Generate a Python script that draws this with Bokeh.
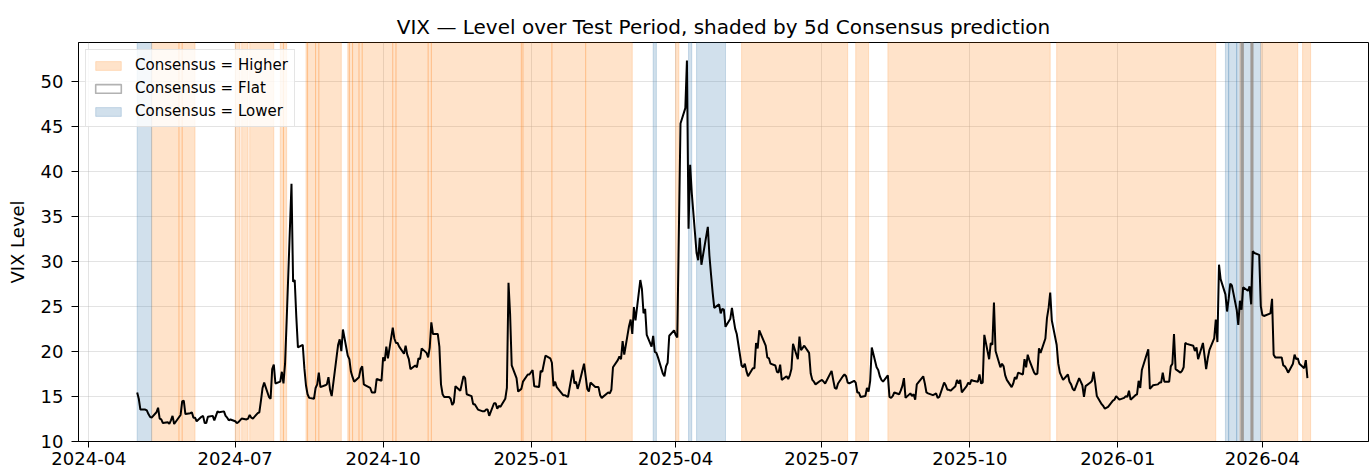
import pandas as pd
from bokeh.plotting import figure
from bokeh.models import (Range1d, FixedTicker, DatetimeTickFormatter,
                          Legend, LegendItem, ColumnDataSource)
from bokeh.embed import file_html
from bokeh.resources import INLINE

# ---------------- data ----------------
dates = [
    # 2024-05
    "2024-05-01","2024-05-02","2024-05-03","2024-05-06","2024-05-07","2024-05-08","2024-05-09","2024-05-10",
    "2024-05-13","2024-05-14","2024-05-15","2024-05-16","2024-05-17","2024-05-20","2024-05-21","2024-05-22",
    "2024-05-23","2024-05-24","2024-05-28","2024-05-29","2024-05-30","2024-05-31",
    # 2024-06
    "2024-06-03","2024-06-04","2024-06-05","2024-06-06","2024-06-07","2024-06-10","2024-06-11","2024-06-12",
    "2024-06-13","2024-06-14","2024-06-17","2024-06-18","2024-06-20","2024-06-21","2024-06-24","2024-06-25",
    "2024-06-26","2024-06-27","2024-06-28",
    # 2024-07
    "2024-07-01","2024-07-02","2024-07-03","2024-07-05","2024-07-08","2024-07-09","2024-07-10","2024-07-11",
    "2024-07-12","2024-07-15","2024-07-16","2024-07-17","2024-07-18","2024-07-19","2024-07-22","2024-07-23",
    "2024-07-24","2024-07-25","2024-07-26","2024-07-29","2024-07-30","2024-07-31",
    # 2024-08
    "2024-08-01","2024-08-02","2024-08-05","2024-08-06","2024-08-07","2024-08-08","2024-08-09","2024-08-12",
    "2024-08-13","2024-08-14","2024-08-15","2024-08-16","2024-08-19","2024-08-20","2024-08-21","2024-08-22",
    "2024-08-23","2024-08-26","2024-08-27","2024-08-28","2024-08-29","2024-08-30",
    # 2024-09
    "2024-09-03","2024-09-04","2024-09-05","2024-09-06","2024-09-09","2024-09-10","2024-09-11","2024-09-12",
    "2024-09-13","2024-09-16","2024-09-17","2024-09-18","2024-09-19","2024-09-20","2024-09-23","2024-09-24",
    "2024-09-25","2024-09-26","2024-09-27","2024-09-30",
    # 2024-10
    "2024-10-01","2024-10-02","2024-10-03","2024-10-04","2024-10-07","2024-10-08","2024-10-09","2024-10-10",
    "2024-10-11","2024-10-14","2024-10-15","2024-10-16","2024-10-17","2024-10-18","2024-10-21","2024-10-22",
    "2024-10-23","2024-10-24","2024-10-25","2024-10-28","2024-10-29","2024-10-30","2024-10-31",
    # 2024-11
    "2024-11-01","2024-11-04","2024-11-05","2024-11-06","2024-11-07","2024-11-08","2024-11-11","2024-11-12",
    "2024-11-13","2024-11-14","2024-11-15","2024-11-18","2024-11-19","2024-11-20","2024-11-21","2024-11-22",
    "2024-11-25","2024-11-26","2024-11-27","2024-11-29",
    # 2024-12
    "2024-12-02","2024-12-03","2024-12-04","2024-12-05","2024-12-06","2024-12-09","2024-12-10","2024-12-11",
    "2024-12-12","2024-12-13","2024-12-16","2024-12-17","2024-12-18","2024-12-19","2024-12-20","2024-12-23",
    "2024-12-24","2024-12-26","2024-12-27","2024-12-30","2024-12-31",
    # 2025-01
    "2025-01-02","2025-01-03","2025-01-06","2025-01-07","2025-01-08","2025-01-10","2025-01-13","2025-01-14",
    "2025-01-15","2025-01-16","2025-01-17","2025-01-21","2025-01-22","2025-01-23","2025-01-24","2025-01-27",
    "2025-01-28","2025-01-29","2025-01-30","2025-01-31",
    # 2025-02
    "2025-02-03","2025-02-04","2025-02-05","2025-02-06","2025-02-07","2025-02-10","2025-02-11","2025-02-12",
    "2025-02-13","2025-02-14","2025-02-18","2025-02-19","2025-02-20","2025-02-21","2025-02-24","2025-02-25",
    "2025-02-26","2025-02-27","2025-02-28",
    # 2025-03
    "2025-03-03","2025-03-04","2025-03-05","2025-03-06","2025-03-07","2025-03-10","2025-03-11","2025-03-12",
    "2025-03-13","2025-03-14","2025-03-17","2025-03-18","2025-03-19","2025-03-20","2025-03-21","2025-03-24",
    "2025-03-25","2025-03-26","2025-03-27","2025-03-28","2025-03-31",
    # 2025-04
    "2025-04-01","2025-04-02","2025-04-04","2025-04-07","2025-04-08","2025-04-09","2025-04-10","2025-04-11",
    "2025-04-14","2025-04-15","2025-04-16","2025-04-17","2025-04-21","2025-04-22","2025-04-23","2025-04-24",
    "2025-04-25","2025-04-28","2025-04-29","2025-04-30",
    # 2025-05
    "2025-05-01","2025-05-02","2025-05-05","2025-05-06","2025-05-07","2025-05-08","2025-05-09","2025-05-12",
    "2025-05-13","2025-05-14","2025-05-15","2025-05-16","2025-05-19","2025-05-20","2025-05-21","2025-05-22",
    "2025-05-23","2025-05-27","2025-05-28","2025-05-29","2025-05-30",
    # 2025-06
    "2025-06-02","2025-06-03","2025-06-04","2025-06-05","2025-06-06","2025-06-09","2025-06-10","2025-06-11",
    "2025-06-12","2025-06-13","2025-06-16","2025-06-17","2025-06-18","2025-06-20","2025-06-23","2025-06-24",
    "2025-06-25","2025-06-26","2025-06-27","2025-06-30",
    # 2025-07
    "2025-07-01","2025-07-02","2025-07-03","2025-07-07","2025-07-08","2025-07-09","2025-07-10","2025-07-11",
    "2025-07-14","2025-07-15","2025-07-16","2025-07-17","2025-07-18","2025-07-21","2025-07-22","2025-07-23",
    "2025-07-24","2025-07-25","2025-07-28","2025-07-29","2025-07-30","2025-07-31",
    # 2025-08
    "2025-08-01","2025-08-04","2025-08-05","2025-08-06","2025-08-07","2025-08-08","2025-08-11","2025-08-12",
    "2025-08-13","2025-08-14","2025-08-15","2025-08-18","2025-08-19","2025-08-20","2025-08-21","2025-08-22",
    "2025-08-25","2025-08-26","2025-08-27","2025-08-28","2025-08-29",
    # 2025-09
    "2025-09-02","2025-09-03","2025-09-04","2025-09-05","2025-09-08","2025-09-09","2025-09-10","2025-09-11",
    "2025-09-12","2025-09-15","2025-09-16","2025-09-17","2025-09-18","2025-09-19","2025-09-22","2025-09-23",
    "2025-09-24","2025-09-25","2025-09-26","2025-09-29","2025-09-30",
    # 2025-10
    "2025-10-01","2025-10-02","2025-10-03","2025-10-06","2025-10-07","2025-10-08","2025-10-09","2025-10-10",
    "2025-10-13","2025-10-14","2025-10-15","2025-10-16","2025-10-17","2025-10-20","2025-10-21","2025-10-22",
    "2025-10-23","2025-10-24","2025-10-27","2025-10-28","2025-10-29","2025-10-30","2025-10-31",
    # 2025-11
    "2025-11-03","2025-11-04","2025-11-05","2025-11-06","2025-11-07","2025-11-10","2025-11-11","2025-11-12",
    "2025-11-13","2025-11-14","2025-11-17","2025-11-18","2025-11-19","2025-11-20","2025-11-21","2025-11-24",
    "2025-11-25","2025-11-26","2025-11-28",
    # 2025-12
    "2025-12-01","2025-12-02","2025-12-03","2025-12-04","2025-12-05","2025-12-08","2025-12-09","2025-12-10",
    "2025-12-11","2025-12-12","2025-12-15","2025-12-16","2025-12-17","2025-12-18","2025-12-19","2025-12-22",
    "2025-12-23","2025-12-24","2025-12-26","2025-12-29","2025-12-30","2025-12-31",
    # 2026-01
    "2026-01-02","2026-01-05","2026-01-06","2026-01-07","2026-01-08","2026-01-09","2026-01-12","2026-01-13",
    "2026-01-14","2026-01-15","2026-01-16","2026-01-20","2026-01-21","2026-01-22","2026-01-23","2026-01-26",
    "2026-01-27","2026-01-28","2026-01-29","2026-01-30",
    # 2026-02
    "2026-02-02","2026-02-03","2026-02-04","2026-02-05","2026-02-06","2026-02-09","2026-02-10","2026-02-11",
    "2026-02-12","2026-02-13","2026-02-17","2026-02-18","2026-02-19","2026-02-20","2026-02-23","2026-02-24",
    "2026-02-25","2026-02-26","2026-02-27",
    # 2026-03
    "2026-03-02","2026-03-03","2026-03-04","2026-03-05","2026-03-06","2026-03-09","2026-03-10","2026-03-11",
    "2026-03-12","2026-03-13","2026-03-16","2026-03-17","2026-03-18","2026-03-19","2026-03-20","2026-03-23",
    "2026-03-24","2026-03-25","2026-03-26","2026-03-27","2026-03-30","2026-03-31",
    # 2026-04
    "2026-04-01","2026-04-02","2026-04-06","2026-04-07","2026-04-08","2026-04-09","2026-04-10","2026-04-13",
    "2026-04-14","2026-04-15","2026-04-16","2026-04-17","2026-04-20","2026-04-21","2026-04-22","2026-04-23",
    "2026-04-24","2026-04-27","2026-04-28","2026-04-29",
]

vix = [
    # 2024-05
    15.4, 14.7, 13.5, 13.5, 13.4, 13.0, 12.7, 12.6,
    13.2, 13.7, 12.5, 12.4, 12.0, 12.1, 11.9, 12.3,
    12.8, 11.9, 12.9, 14.4, 14.5, 13.0,
    # 2024-06
    13.1, 13.2, 12.6, 12.6, 12.2, 12.7, 12.8, 12.0,
    12.0, 12.7, 12.8, 12.3, 13.3, 13.2, 13.3, 12.8,
    12.6, 12.3, 12.4,
    # 2024-07
    12.2, 12.0, 12.1, 12.5, 12.4, 12.5, 12.9, 12.6,
    12.5, 13.1, 13.2, 14.5, 15.9, 16.5, 14.9, 14.7,
    18.0, 18.5, 16.4, 16.6, 17.7, 16.4,
    # 2024-08
    18.6, 23.4, 38.6, 27.7, 27.9, 23.8, 20.4, 20.7,
    18.1, 16.2, 15.2, 14.8, 14.7, 15.9, 16.3, 17.6,
    16.0, 16.2, 16.3, 17.1, 15.7, 15.0,
    # 2024-09
    20.7, 21.3, 20.0, 22.4, 19.5, 19.1, 17.7, 17.1,
    16.6, 17.1, 18.0, 18.3, 16.3, 16.2, 15.9, 15.4,
    15.4, 15.4, 16.9, 16.7,
    # 2024-10
    19.3, 18.9, 20.5, 19.2, 22.6, 21.4, 20.9, 20.9,
    20.5, 19.7, 20.6, 19.6, 19.1, 18.0, 18.4, 18.2,
    19.2, 19.1, 20.3, 19.8, 19.3, 20.4, 23.2,
    # 2024-11
    21.9, 21.9, 20.5, 16.3, 15.2, 14.9, 14.9, 14.7,
    14.0, 14.3, 16.1, 15.6, 16.4, 17.2, 17.0, 15.2,
    15.0, 14.1, 14.1, 13.5,
    # 2024-12
    13.3, 13.3, 13.5, 13.5, 12.8, 14.2, 14.2, 13.6,
    13.9, 13.8, 14.7, 15.9, 27.6, 24.1, 18.4, 17.0,
    15.5, 15.8, 16.6, 17.4, 17.4,
    # 2025-01
    17.9, 16.1, 16.0, 17.8, 17.7, 19.5, 19.2, 18.7,
    16.1, 16.6, 16.0, 15.1, 15.1, 15.0, 14.9, 17.9,
    16.4, 16.6, 15.8, 16.4,
    # 2025-02
    18.6, 17.2, 15.8, 15.5, 16.5, 16.0, 16.0, 16.0,
    15.1, 14.8, 15.4, 15.3, 15.7, 18.2, 19.0, 19.4,
    19.1, 21.1, 19.6,
    # 2025-03
    22.8, 23.5, 21.9, 24.9, 23.4, 27.9, 26.9, 24.2,
    24.7, 21.8, 20.5, 21.7, 19.9, 19.8, 19.3, 17.5,
    17.2, 18.3, 18.7, 21.7, 22.3,
    # 2025-04
    21.8, 21.5, 45.3, 47.0, 52.3, 33.6, 40.7, 37.6,
    30.9, 30.1, 32.6, 29.6, 33.8, 30.6, 28.5, 26.5,
    24.8, 25.2, 24.2, 24.7,
    # 2025-05
    24.6, 22.7, 23.6, 24.8, 23.6, 22.5, 21.9, 18.4,
    18.2, 18.6, 17.8, 17.2, 18.1, 18.1, 20.9, 20.3,
    22.3, 20.6, 19.3, 19.2, 18.6,
    # 2025-06
    18.4, 17.7, 17.6, 18.5, 16.8, 17.2, 16.9, 17.3,
    18.0, 20.8, 19.1, 21.6, 20.1, 20.6, 19.8, 17.5,
    16.8, 16.6, 16.3, 16.7,
    # 2025-07
    16.8, 16.6, 16.4, 17.8, 16.8, 15.9, 15.8, 16.4,
    17.2, 17.4, 17.2, 16.5, 16.4, 16.7, 16.5, 15.4,
    15.4, 14.9, 15.0, 15.9, 15.5, 16.7,
    # 2025-08
    20.4, 18.2, 17.9, 17.2, 16.8, 16.6, 17.3, 14.9,
    14.8, 15.0, 15.4, 15.2, 15.6, 16.1, 17.0, 14.8,
    15.3, 15.0, 15.2, 14.6, 16.3,
    # 2025-09
    17.2, 16.4, 15.4, 15.3, 15.1, 15.2, 15.3, 14.8,
    14.9, 16.5, 16.2, 15.7, 15.7, 15.6, 16.1, 16.8,
    16.4, 16.8, 15.4, 16.1, 16.5,
    # 2025-10
    16.3, 16.8, 16.7, 16.6, 17.4, 16.4, 16.5, 21.8,
    19.1, 20.9, 20.7, 25.4, 20.0, 18.2, 18.6, 18.3,
    17.3, 16.8, 16.0, 16.4, 17.1, 16.9, 17.6,
    # 2025-11
    17.4, 19.1, 18.2, 19.6, 19.0, 17.6, 17.4, 17.5,
    20.3, 19.8, 21.4, 23.7, 24.8, 26.5, 23.4, 20.7,
    18.6, 17.6, 16.8,
    # 2025-12
    17.4, 16.6, 16.3, 15.8, 15.6, 17.0, 16.6, 16.2,
    14.9, 16.1, 16.5, 16.7, 17.7, 16.4, 15.0, 14.1,
    13.9, 13.6, 13.8, 14.5, 14.6, 15.0,
    # 2026-01
    14.6, 14.8, 15.0, 14.9, 15.6, 14.6, 15.1, 15.2,
    16.7, 15.9, 17.9, 20.2, 15.8, 16.0, 16.2, 16.3,
    16.5, 16.5, 17.6, 16.6,
    # 2026-02
    16.6, 18.3, 18.6, 21.9, 18.0, 17.6, 17.8, 18.2,
    20.9, 20.8, 20.6, 20.0, 20.4, 19.1, 20.9, 19.5,
    18.0, 19.2, 20.1,
    # 2026-03
    21.4, 23.5, 21.0, 29.6, 28.0, 26.3, 24.4, 25.8,
    27.5, 27.3, 24.6, 22.9, 25.6, 24.6, 27.1, 26.7,
    27.2, 25.2, 31.1, 30.9, 30.7, 25.0,
    # 2026-04
    24.0, 23.9, 24.2, 25.8, 19.6, 19.3, 19.3, 19.3,
    18.4, 18.3, 18.0, 17.6, 18.6, 19.6, 19.1, 19.2,
    18.6, 18.1, 19.0, 17.0,
]

# consensus runs: start / end dates per prediction class
higher_start = [
    "2024-05-10", "2024-05-27", "2024-05-29", "2024-07-01", "2024-07-05", "2024-07-10",
    "2024-07-29", "2024-07-31", "2024-08-14", "2024-08-15", "2024-08-20", "2024-08-22",
    "2024-09-09", "2024-09-10", "2024-09-12", "2024-09-16", "2024-09-18", "2024-10-07",
    "2024-10-09", "2024-10-29", "2024-10-31", "2024-12-26", "2024-12-27", "2025-01-14",
    "2025-02-04", "2025-04-01", "2025-05-12", "2025-07-22", "2025-08-11", "2025-11-24",
    "2026-03-18", "2026-03-25", "2026-03-31", "2026-04-26",
]
higher_end = [
    "2024-05-27", "2024-05-29", "2024-06-06", "2024-07-04", "2024-07-09", "2024-07-25",
    "2024-07-31", "2024-08-02", "2024-08-15", "2024-08-20", "2024-08-22", "2024-09-05",
    "2024-09-10", "2024-09-12", "2024-09-16", "2024-09-18", "2024-10-07", "2024-10-09",
    "2024-10-29", "2024-10-31", "2024-12-26", "2024-12-27", "2025-01-14", "2025-02-04",
    "2025-03-05", "2025-04-03", "2025-07-17", "2025-07-30", "2025-11-20", "2026-03-03",
    "2026-03-20", "2026-03-26", "2026-04-23", "2026-05-01",
]
lower_start = ["2024-05-01", "2025-03-18", "2025-04-09", "2025-04-14",
               "2026-03-09", "2026-03-11", "2026-03-16"]
lower_end = ["2024-05-10", "2025-03-20", "2025-04-11", "2025-05-02",
             "2026-03-11", "2026-03-16", "2026-03-31"]
flat_start = ["2026-03-19", "2026-03-25"]
flat_end = ["2026-03-20", "2026-03-26"]

x_tick_dates = ["2024-04-01", "2024-07-01", "2024-10-01", "2025-01-01", "2025-04-01",
                "2025-07-01", "2025-10-01", "2026-01-01", "2026-04-01"]
y_ticks = [10, 15, 20, 25, 30, 35, 40, 45, 50]
x_limits = ("2024-03-25 12:00", "2026-06-06 00:00")
y_limits = (9.95, 54.3)

TITLE = "VIX \u2014 Level over Test Period, shaded by 5d Consensus prediction"
ORANGE = "#ff7f0e"
BLUE = "steelblue"
FONT = "DejaVu Sans"


def ts(s):
    return pd.Timestamp(s)


p = figure(width=1372, height=476, x_axis_type="datetime",
           x_range=Range1d(ts(x_limits[0]), ts(x_limits[1])),
           y_range=Range1d(*y_limits),
           output_backend="svg", toolbar_location=None,
           min_border_left=78, min_border_right=4, min_border_top=42, min_border_bottom=35,
           title=TITLE)

p.title.text_font = FONT
p.title.text_font_size = "20px"
p.title.text_font_style = "normal"
p.title.align = "center"
p.title.standoff = 8
p.title.text_color = "black"

p.outline_line_color = "black"
p.outline_line_width = 1
p.background_fill_color = "white"
p.border_fill_color = "white"

y_lo, y_hi = y_limits

# shaded spans
r_h = p.quad(left=pd.to_datetime(higher_start), right=pd.to_datetime(higher_end),
             bottom=y_lo, top=y_hi, fill_color=ORANGE, fill_alpha=0.22,
             line_color=ORANGE, line_alpha=0.2, line_width=1)
r_l = p.quad(left=pd.to_datetime(lower_start), right=pd.to_datetime(lower_end),
             bottom=y_lo, top=y_hi, fill_color=BLUE, fill_alpha=0.25,
             line_color=BLUE, line_alpha=0.25, line_width=1)
r_f = p.quad(left=pd.to_datetime(flat_start), right=pd.to_datetime(flat_end),
             bottom=y_lo, top=y_hi, fill_color=None,
             line_color="#7f7f7f", line_alpha=0.6, line_width=1.6)

src = ColumnDataSource(dict(date=pd.to_datetime(dates), vix=vix))
p.line(x="date", y="vix", source=src, line_color="black", line_width=2)

legend = Legend(items=[
    LegendItem(label="Consensus = Higher", renderers=[r_h]),
    LegendItem(label="Consensus = Flat", renderers=[r_f]),
    LegendItem(label="Consensus = Lower", renderers=[r_l]),
], location="top_left")
legend.label_text_font = FONT
legend.label_text_font_size = "15px"
legend.label_text_color = "black"
legend.label_height = 18
legend.glyph_height = 11
legend.glyph_width = 32
legend.label_standoff = 11
legend.padding = 6
legend.spacing = 5
legend.margin = 7
legend.border_line_color = "#cccccc"
legend.border_line_width = 1
legend.background_fill_alpha = 0.8
p.add_layout(legend)

# axes
p.xaxis.ticker = FixedTicker(ticks=[ts(d).value / 1e6 for d in x_tick_dates])
p.xaxis.formatter = DatetimeTickFormatter(days="%Y-%m", months="%Y-%m", years="%Y-%m",
                                          hours="%Y-%m", minutes="%Y-%m")
p.yaxis.ticker = FixedTicker(ticks=y_ticks)
p.yaxis.axis_label = "VIX Level"

for ax in (p.xaxis[0], p.yaxis[0]):
    ax.major_label_text_font = FONT
    ax.major_label_text_font_size = "18px"
    ax.major_label_text_color = "black"
    ax.axis_line_color = "black"
    ax.major_tick_line_color = "black"
    ax.minor_tick_line_color = None
    ax.major_tick_in = 0
ax = p.xaxis[0]
ax.major_tick_out = 6
ax.major_label_standoff = 4
ay = p.yaxis[0]
ay.major_tick_out = 7
ay.major_label_standoff = 8
ay.axis_label_text_font = FONT
ay.axis_label_text_font_size = "18px"
ay.axis_label_text_font_style = "normal"
ay.axis_label_text_color = "black"
ay.axis_label_standoff = 10

p.xgrid.grid_line_color = "#b0b0b0"
p.xgrid.grid_line_alpha = 0.35
p.ygrid.grid_line_color = "#b0b0b0"
p.ygrid.grid_line_alpha = 0.35

open("out.html", "w").write(file_html(p, INLINE, title="VIX"))
